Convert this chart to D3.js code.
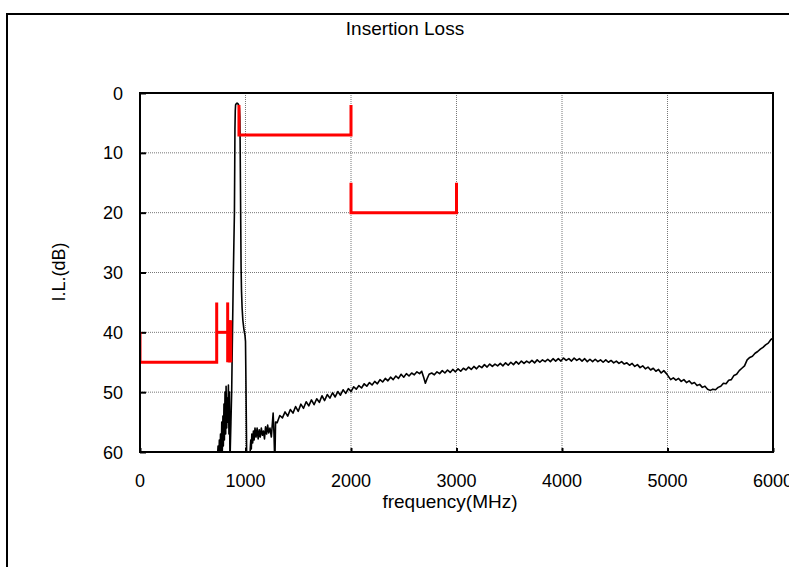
<html>
<head>
<script src="https://d3js.org/d3.v7.min.js"></script>
<style>
  body { margin: 0; background: #fff; }
  text { font-family: "Liberation Sans", Arial, sans-serif; fill: #000; }
</style>
</head>
<body>
<div id="chart"></div>
<script>
// axis ticks
var freqTicks = [0, 1000, 2000, 3000, 4000, 5000, 6000];
var lossTicks = [0, 10, 20, 30, 40, 50, 60];

// measured trace (MHz / dB), read off the plot, in three pieces
// lower stopband noise
var lowFreq = [730, 740, 745, 752, 758, 763, 770, 775, 780, 786, 790, 796, 800, 806, 812, 816, 822, 827, 832, 838, 843, 848, 852];
var lowLoss = [62, 59, 63, 58, 62, 57, 61, 55, 60, 54, 59, 52, 58, 50, 57, 49, 56, 51, 55, 48.8, 57, 50, 60];
// passband and skirts
var bandFreq = [855, 862, 869, 875, 880, 885, 890, 895, 898, 900, 903, 906, 912, 920, 928, 935, 942, 946, 949, 952, 955, 958, 962, 968, 975, 985, 995, 1000, 1004, 1008, 1012,
  1025, 1040, 1045, 1050, 1055, 1060, 1068, 1075, 1082, 1090, 1100, 1110, 1120, 1130, 1140, 1150, 1160, 1170, 1180, 1190, 1200, 1210, 1220, 1232, 1245, 1262, 1270, 1278, 1285];
var bandLoss = [60, 55, 50, 42, 36, 30, 25, 20, 12, 6, 3, 2, 1.8, 1.7, 1.8, 2.0, 2.5, 4, 8, 15, 22, 29, 33, 36, 38, 39.5, 40.5, 41.5, 48, 55, 62,
  65, 63, 59.5, 58, 59.5, 57, 58.5, 56.5, 58, 56, 57.5, 56, 57.8, 56.3, 57.5, 56, 57.2, 56.5, 57.8, 55.8, 57, 55.5, 56.8, 56, 57.5, 53.5, 57, 62, 55];
// upper stopband
var highFreq = [1300, 1325, 1350, 1375, 1400, 1425, 1450, 1475, 1500, 1525, 1550, 1575, 1600, 1625, 1650, 1675, 1700, 1725, 1750, 1775, 1800, 1825, 1850, 1875, 1900, 1925, 1950, 1975, 2000,
  2025, 2050, 2075, 2100, 2125, 2150, 2175, 2200, 2225, 2250, 2275, 2300, 2325, 2350, 2375, 2400, 2425, 2450, 2475, 2500, 2525, 2550, 2575, 2600, 2625, 2650, 2670,
  2690, 2705, 2720, 2740, 2765, 2790, 2815, 2840, 2865, 2890, 2915, 2940, 2965, 2990, 3015, 3040, 3065, 3090, 3115, 3140, 3165, 3190, 3215, 3240, 3265, 3290, 3315, 3340,
  3365, 3390, 3415, 3440, 3465, 3490, 3515, 3540, 3565, 3590, 3615, 3640, 3665, 3690, 3715, 3740, 3765, 3790, 3815, 3840, 3865, 3890, 3915, 3940, 3965, 3990, 4015, 4040,
  4065, 4090, 4115, 4140, 4165, 4190, 4215, 4240, 4265, 4290, 4315, 4340, 4365, 4390, 4415, 4440, 4465, 4490, 4515, 4540, 4565, 4590, 4615, 4640, 4665, 4690, 4715, 4740,
  4765, 4790, 4815, 4840, 4865, 4890, 4915, 4940, 4965, 4990, 5010, 5030, 5055, 5080, 5105, 5130, 5155, 5180, 5205, 5230, 5255, 5280, 5305, 5330, 5355, 5380, 5405, 5430,
  5455, 5480, 5505, 5530, 5555, 5580, 5605, 5630, 5655, 5680, 5705, 5730, 5755, 5780, 5805, 5830, 5855, 5880, 5905, 5930, 5955, 5980, 6000];
var highLoss = [55.1, 53.9, 54.3, 53.3, 54.0, 52.9, 53.5, 52.4, 53.2, 52.0, 52.7, 51.6, 52.3, 51.3, 52.1, 51.1, 51.7, 50.6, 51.4, 50.4, 51.0, 50.1, 50.8, 49.9, 50.5, 49.6, 50.2, 49.4, 49.9,
  49.1, 49.5, 48.9, 49.3, 48.6, 49.0, 48.4, 48.8, 48.2, 48.6, 47.9, 48.3, 47.7, 48.1, 47.5, 47.9, 47.3, 47.7, 47.0, 47.5, 46.9, 47.3, 46.8, 47.1, 46.6, 46.9, 46.5,
  47.6, 48.5, 47.8, 47.0, 46.8, 47.1, 46.6, 46.9, 46.4, 46.8, 46.3, 46.7, 46.2, 46.6, 46.1, 46.5, 46.0, 46.3, 45.8, 46.2, 45.7, 46.1, 45.6, 45.9, 45.4, 45.8, 45.3, 45.7,
  45.3, 45.6, 45.2, 45.6, 45.1, 45.5, 45.0, 45.4, 44.9, 45.3, 44.8, 45.2, 44.8, 45.1, 44.7, 45.1, 44.6, 45.0, 44.6, 44.9, 44.5, 44.9, 44.4, 44.8, 44.4, 44.8, 44.3, 44.7,
  44.4, 44.8, 44.3, 44.7, 44.4, 44.8, 44.4, 44.9, 44.5, 44.9, 44.5, 44.9, 44.6, 45.0, 44.6, 45.0, 44.7, 45.1, 44.8, 45.2, 44.9, 45.3, 45.1, 45.5, 45.2, 45.7, 45.4, 45.9,
  45.6, 46.1, 45.8, 46.3, 46.0, 46.5, 46.2, 46.8, 46.4, 46.9, 47.4, 47.9, 47.6, 48.0, 47.7, 48.2, 47.9, 48.4, 48.1, 48.6, 48.4, 48.9, 48.7, 49.2, 49.0, 49.5, 49.7, 49.5,
  49.6, 49.2, 49.0, 48.5, 48.6, 48.0, 47.9, 47.2, 47.0, 46.4, 46.0, 45.6, 44.6, 44.2, 44.0, 43.5, 43.2, 42.8, 42.5, 42.1, 41.8, 41.2, 41.0];

// spec mask segments (red)
var maskFreq = [[0, 0, 727, 727], [727, 831], [831, 831], [845, 845], [852, 852], [860, 860], [938, 938, 2000, 2000], [2000, 2000, 3000, 3000]];
var maskLoss = [[40, 45, 45, 35], [40, 40], [35, 45], [38, 45], [38, 45], [38, 45], [2, 7, 7, 2], [15, 20, 20, 15]];

var traceFreq = lowFreq.concat(bandFreq, highFreq);
var traceLoss = lowLoss.concat(bandLoss, highLoss);

var W = 789, H = 567;
var plotLeft = 140, plotRight = 773, plotTop = 93, plotBottom = 452;

var svg = d3.select("#chart").append("svg")
    .attr("width", W)
    .attr("height", H);

// outer frame
svg.append("rect")
    .attr("x", 7).attr("y", 14)
    .attr("width", W).attr("height", H)
    .attr("fill", "none").attr("stroke", "#000").attr("stroke-width", 2);

var x = d3.scaleLinear().domain([0, 6000]).range([plotLeft, plotRight]);
var y = d3.scaleLinear().domain([0, 60]).range([plotTop, plotBottom]);

// grid
svg.append("g").selectAll("line")
    .data(freqTicks.slice(1, -1))
    .enter().append("line")
      .attr("x1", d => x(d)).attr("x2", d => x(d))
      .attr("y1", plotTop).attr("y2", plotBottom)
      .attr("stroke", "#777").attr("stroke-width", 1).attr("stroke-dasharray", "1,1");
svg.append("g").selectAll("line")
    .data(lossTicks.slice(1, -1))
    .enter().append("line")
      .attr("y1", d => y(d)).attr("y2", d => y(d))
      .attr("x1", plotLeft).attr("x2", plotRight)
      .attr("stroke", "#777").attr("stroke-width", 1).attr("stroke-dasharray", "1,1");

// axes (inner ticks, labels drawn separately)
var xAxis = svg.append("g")
    .attr("transform", "translate(0," + plotBottom + ")")
    .call(d3.axisTop(x).tickValues(freqTicks).tickSize(4).tickFormat(""));
xAxis.select(".domain").remove();
xAxis.selectAll("line").attr("stroke-width", 2);

var yAxis = svg.append("g")
    .attr("transform", "translate(" + plotLeft + ",0)")
    .call(d3.axisRight(y).tickValues(lossTicks).tickSize(6).tickFormat(""));
yAxis.select(".domain").remove();
yAxis.selectAll("line").attr("stroke-width", 2);

svg.selectAll(".xLabel")
    .data(freqTicks)
    .enter().append("text")
      .attr("class", "xLabel")
      .attr("x", d => x(d))
      .attr("y", 487)
      .attr("text-anchor", "middle")
      .style("font-size", "18px")
      .text(d => d);

svg.selectAll(".yLabel")
    .data(lossTicks)
    .enter().append("text")
      .attr("class", "yLabel")
      .attr("x", 123)
      .attr("y", d => y(d) + 6.5)
      .attr("text-anchor", "end")
      .style("font-size", "18px")
      .text(d => d);

// clip for the plot area
svg.append("clipPath").attr("id", "plotClip")
  .append("rect")
    .attr("x", plotLeft).attr("y", plotTop)
    .attr("width", plotRight - plotLeft).attr("height", plotBottom - plotTop);

var plot = svg.append("g").attr("clip-path", "url(#plotClip)");

var line = d3.line()
    .x(d => x(d[0]))
    .y(d => y(d[1]));

plot.append("path")
    .datum(d3.zip(traceFreq, traceLoss))
    .attr("d", line)
    .attr("fill", "none")
    .attr("stroke", "#000")
    .attr("stroke-width", 1.6)
    .attr("stroke-linejoin", "round");

maskFreq.forEach(function(fs, i) {
  plot.append("path")
      .datum(d3.zip(fs, maskLoss[i]))
      .attr("d", line)
      .attr("fill", "none")
      .attr("stroke", "#ff0000")
      .attr("stroke-width", 3);
});

// plot frame
svg.append("rect")
    .attr("x", plotLeft).attr("y", plotTop)
    .attr("width", plotRight - plotLeft).attr("height", plotBottom - plotTop)
    .attr("fill", "none").attr("stroke", "#000").attr("stroke-width", 2);

// titles
svg.append("text")
    .attr("x", 405).attr("y", 35)
    .attr("text-anchor", "middle")
    .style("font-size", "19px")
    .text("Insertion Loss");

svg.append("text")
    .attr("x", 450).attr("y", 508)
    .attr("text-anchor", "middle")
    .style("font-size", "19px")
    .text("frequency(MHz)");

svg.append("text")
    .attr("transform", "translate(65,272) rotate(-90)")
    .attr("text-anchor", "middle")
    .style("font-size", "18px")
    .text("I.L.(dB)");
</script>
</body>
</html>
